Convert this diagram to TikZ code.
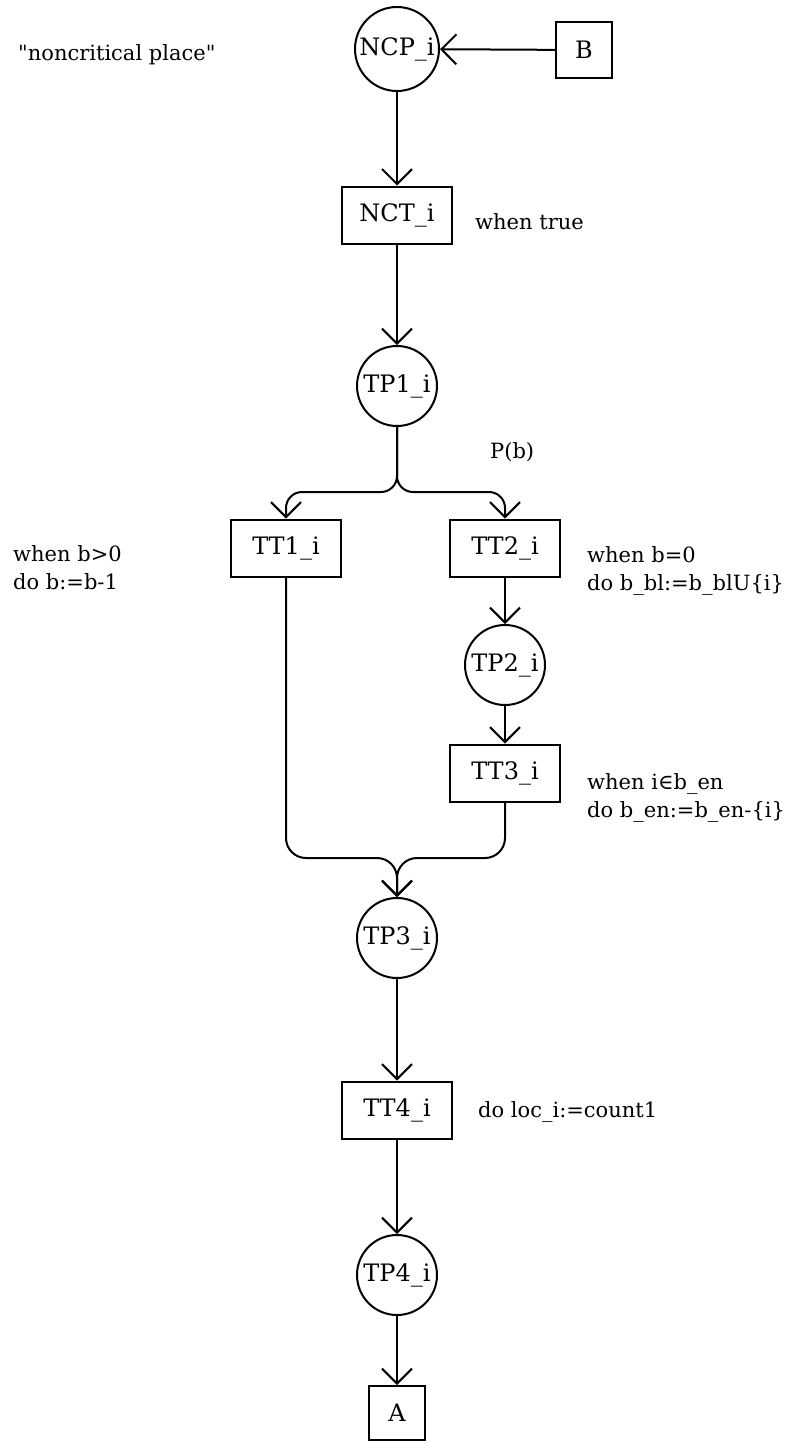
\documentclass[tikz,border=0pt]{standalone}
\usepackage{fontspec}
\setmainfont{DejaVu Serif}
\usetikzlibrary{arrows.meta}
\begin{document}
\begin{tikzpicture}[x=1pt,y=-1pt,
  place/.style={draw,line width=2pt,circle,minimum size=80pt,inner sep=0pt,font=\fontsize{24}{28}\selectfont},
  trans/.style={draw,line width=2pt,rectangle,minimum width=110pt,minimum height=57pt,inner sep=0pt,font=\fontsize{24}{28}\selectfont},
  ann/.style={anchor=west,inner sep=0pt,align=left,font=\fontsize{21}{28}\selectfont},
  arc/.style={line width=2pt,-{Straight Barb[length=15pt,width=30pt,line width=2pt]}}]
\path[use as bounding box,fill=white] (0,0) rectangle (793,1443);
\node[place,minimum size=84pt] (ncp) at (397,49) {NCP\_i};
\node[trans,minimum width=56pt,minimum height=56pt] (b) at (584,50) {B};
\node[trans] (nct) at (397,215) {NCT\_i};
\node[place] (tp1) at (397,386) {TP1\_i};
\node[trans] (tt1) at (286,548) {TT1\_i};
\node[trans] (tt2) at (505,548) {TT2\_i};
\node[place] (tp2) at (505,665) {TP2\_i};
\node[trans] (tt3) at (505,773) {TT3\_i};
\node[place] (tp3) at (397,938) {TP3\_i};
\node[trans] (tt4) at (397,1110) {TT4\_i};
\node[place] (tp4) at (397,1275) {TP4\_i};
\node[trans,minimum width=56pt,minimum height=54pt] (a) at (397,1413) {A};
\coordinate (spl) at (397,492);
\coordinate (mrg) at (397,858);
\node[ann] (lnc) at (18,55) {\textquotedbl noncritical place\textquotedbl};
\node[ann] (lnct) at (475,222) {when true};
\node[ann] (lpb) at (490,452) {P(b)};
\node[ann] (ltt1) at (13,568) {when b>0\\do b:=b-1};
\node[ann] (ltt2) at (587,571) {when b=0\\do b\_bl:=b\_blU\{i\}};
\node[ann] (ltt3) at (587,798) {when i∈b\_en\\do b\_en:=b\_en-\{i\}};
\node[ann] (ltt4) at (478,1112) {do loc\_i:=count1};
\draw[arc] (b) -- (ncp);
\draw[arc] (ncp) -- (nct);
\draw[arc] (nct) -- (tp1);
\draw[arc,rounded corners=16pt] (tp1.south) -- (spl) -| (tt1.north);
\draw[arc,rounded corners=16pt] (tp1.south) -- (spl) -| (tt2.north);
\draw[arc] (tt2) -- (tp2);
\draw[arc] (tp2) -- (tt3);
\draw[arc,rounded corners=20pt] (tt1.south) |- (mrg) -- (tp3.north);
\draw[arc,rounded corners=20pt] (tt3.south) |- (mrg) -- (tp3.north);
\draw[arc] (tp3) -- (tt4);
\draw[arc] (tt4) -- (tp4);
\draw[arc] (tp4) -- (a);
\end{tikzpicture}
\end{document}
